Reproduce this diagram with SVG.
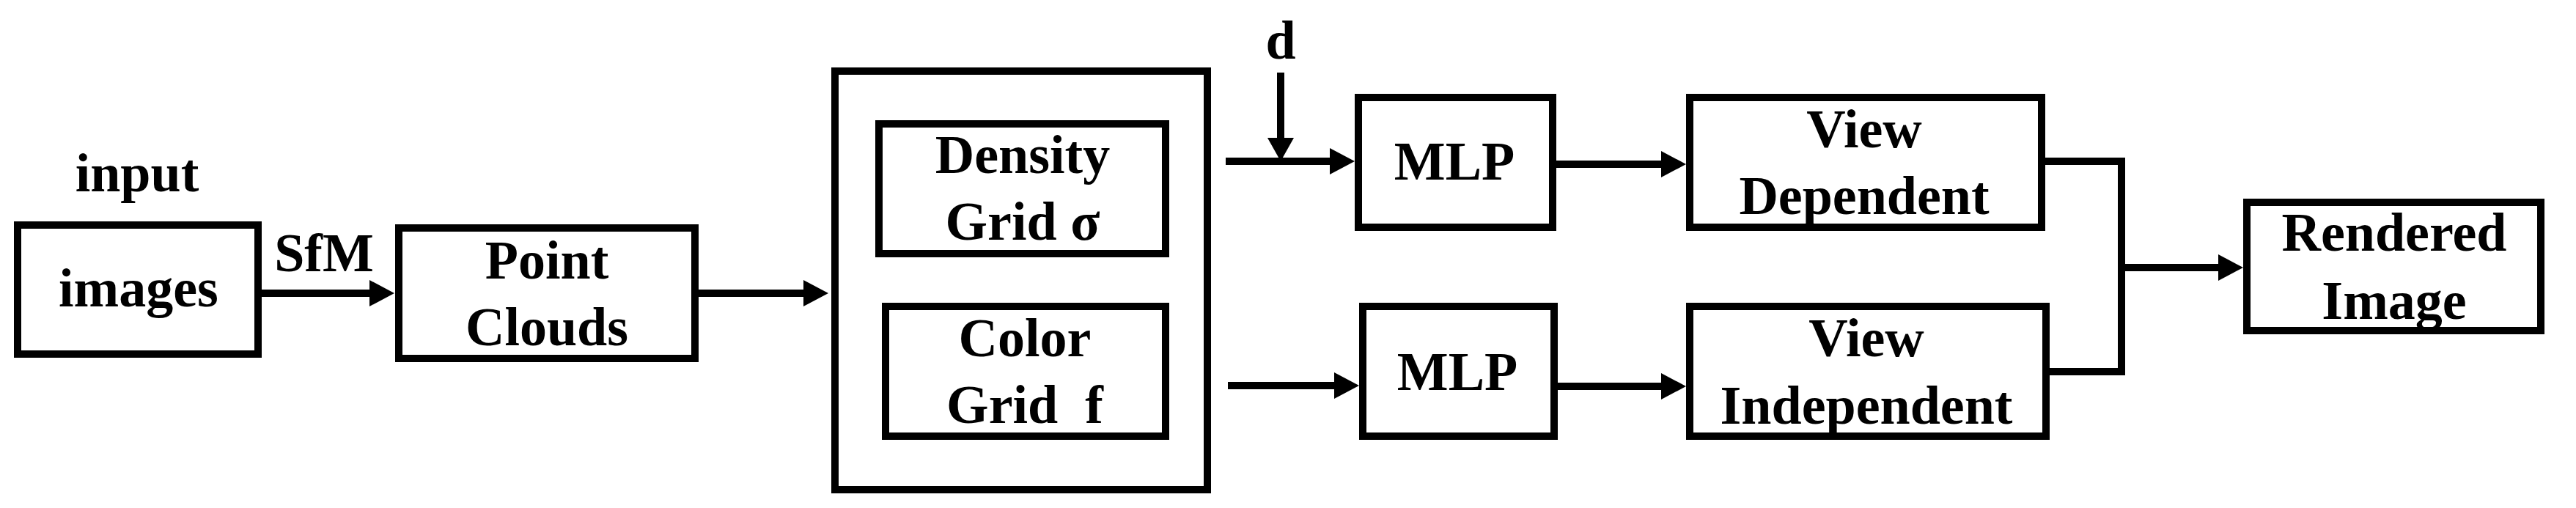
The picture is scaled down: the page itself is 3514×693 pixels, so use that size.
<svg xmlns="http://www.w3.org/2000/svg" width="3514" height="693" viewBox="0 0 3514 693">
<style>
.box{fill:#fff;stroke:#000;stroke-width:10}
.ln{fill:none;stroke:#000;stroke-width:10}
.hd{fill:#000}
text{font-family:"Liberation Serif","Times New Roman",serif;font-weight:bold;font-size:74px;text-anchor:middle;fill:#000}
</style>
<rect width="3514" height="693" fill="#fff"/>
<g id="input-images">
<rect class="box" x="24" y="307" width="328" height="176"/>
<text x="187" y="261">input</text>
<text x="189" y="418">images</text>
</g>
<g id="point-clouds">
<rect class="box" x="544" y="311" width="404" height="178"/>
<text x="746" y="380">Point</text>
<text x="746" y="471">Clouds</text>
</g>
<g id="grids">
<rect class="box" x="1139" y="97" width="508" height="571"/>
</g>
<g id="density-grid">
<rect class="box" x="1199" y="169" width="391" height="177"/>
<text x="1395" y="236">Density</text>
<text x="1395" y="327">Grid σ</text>
</g>
<g id="color-grid">
<rect class="box" x="1208" y="418" width="382" height="177"/>
<text x="1398" y="486">Color</text>
<text x="1398" y="577" xml:space="preserve">Grid  f</text>
</g>
<g id="mlp1">
<rect class="box" x="1853" y="133" width="265" height="177"/>
<text x="1984" y="245">MLP</text>
</g>
<g id="mlp2">
<rect class="box" x="1859" y="418" width="261" height="177"/>
<text x="1988" y="532">MLP</text>
</g>
<g id="view-dependent">
<rect class="box" x="2305" y="133" width="480" height="177"/>
<text x="2543" y="201">View</text>
<text x="2543" y="292">Dependent</text>
</g>
<g id="view-independent">
<rect class="box" x="2305" y="418" width="486" height="177"/>
<text x="2546" y="486">View</text>
<text x="2546" y="578">Independent</text>
</g>
<g id="rendered-image">
<rect class="box" x="3065" y="276" width="401" height="175"/>
<text x="3266" y="342">Rendered</text>
<text x="3266" y="435">Image</text>
</g>
<text x="442" y="370">SfM</text>
<text x="1747" y="80">d</text>
<g id="connectors">
<path class="ln" d="M357 400H505"/><polygon class="hd" points="538,400 504,382 504,418"/>
<path class="ln" d="M953 400H1097"/><polygon class="hd" points="1130,400 1096,382 1096,418"/>
<path class="ln" d="M1747 99V190"/><polygon class="hd" points="1747,220 1729,188 1765,188"/>
<path class="ln" d="M1672 220H1815"/><polygon class="hd" points="1848,220 1814,202 1814,238"/>
<path class="ln" d="M1675 526H1821"/><polygon class="hd" points="1854,526 1820,508 1820,544"/>
<path class="ln" d="M2123 224H2268"/><polygon class="hd" points="2300,224 2266,206 2266,242"/>
<path class="ln" d="M2125 527H2268"/><polygon class="hd" points="2300,527 2266,509 2266,545"/>
<path class="ln" d="M2790 220H2894V507H2796"/>
<path class="ln" d="M2894 365H3028"/><polygon class="hd" points="3060,365 3026,347 3026,383"/>
</g>
</svg>
